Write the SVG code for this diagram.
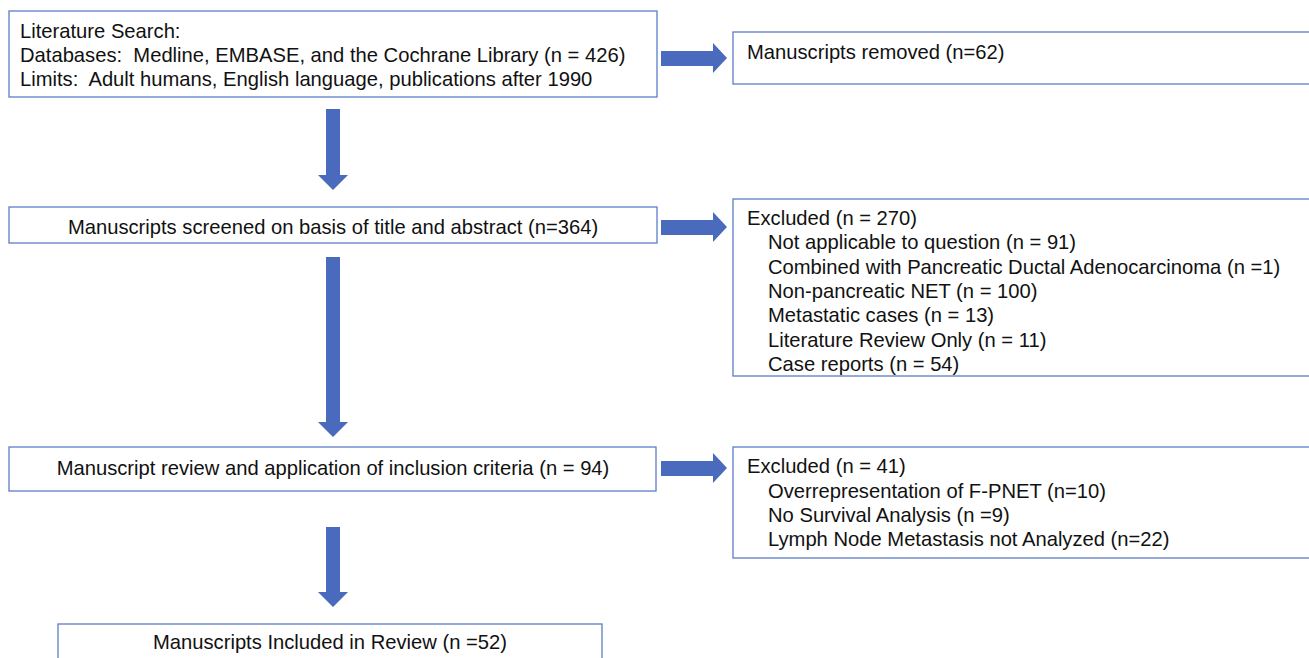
<svg xmlns="http://www.w3.org/2000/svg" width="1309" height="658" viewBox="0 0 1309 658" xml:space="preserve">
<style>
.box{fill:#fff;stroke:#5b7dc8;stroke-width:1.3}
.t{font-family:"Liberation Sans",Arial,sans-serif;font-size:20.2px;fill:#111;white-space:pre}
.c{text-anchor:middle}
.arr{fill:#4a6bbd}
</style>
<rect width="1309" height="658" fill="#fff"/>
<g id="connectors">
<polygon class="arr" points="661,51 713,51 713,43 727,58 713,73 713,66 661,66"/>
<polygon class="arr" points="661,220 713,220 713,212 727,227 713,242 713,235 661,235"/>
<polygon class="arr" points="661,461 713,461 713,453 727,468 713,483 713,476 661,476"/>
<polygon class="arr" points="326,109 340,109 340,175 348,175 333,190 318,175 326,175"/>
<polygon class="arr" points="326,257 340,257 340,422 348,422 333,437 318,422 326,422"/>
<polygon class="arr" points="326,527 340,527 340,592 348,592 333,607 318,592 326,592"/>
</g>
<g id="n1">
<rect class="box" x="9" y="11" width="648" height="86"/>
<text class="t" x="20" y="38">Literature Search:</text>
<text class="t" x="20" y="62">Databases:  Medline, EMBASE, and the Cochrane Library (n = 426)</text>
<text class="t" x="20" y="86">Limits:  Adult humans, English language, publications after 1990</text>
</g>
<g id="n2">
<rect class="box" x="733" y="32" width="590" height="52"/>
<text class="t" x="747" y="59">Manuscripts removed (n=62)</text>
</g>
<g id="n3">
<rect class="box" x="9" y="207" width="648" height="36"/>
<text class="t c" x="333" y="234">Manuscripts screened on basis of title and abstract (n=364)</text>
</g>
<g id="n4">
<rect class="box" x="733" y="199" width="590" height="177"/>
<text class="t" x="747" y="225">Excluded (n = 270)</text>
<text class="t" x="768" y="249.3">Not applicable to question (n = 91)</text>
<text class="t" x="768" y="273.6">Combined with Pancreatic Ductal Adenocarcinoma (n =1)</text>
<text class="t" x="768" y="297.9">Non-pancreatic NET (n = 100)</text>
<text class="t" x="768" y="322.2">Metastatic cases (n = 13)</text>
<text class="t" x="768" y="346.5">Literature Review Only (n = 11)</text>
<text class="t" x="768" y="370.8">Case reports (n = 54)</text>
</g>
<g id="n5">
<rect class="box" x="9" y="447" width="647" height="44"/>
<text class="t c" x="333" y="475">Manuscript review and application of inclusion criteria (n = 94)</text>
</g>
<g id="n6">
<rect class="box" x="733" y="447" width="590" height="111"/>
<text class="t" x="747" y="473">Excluded (n = 41)</text>
<text class="t" x="768" y="498">Overrepresentation of F-PNET (n=10)</text>
<text class="t" x="768" y="522">No Survival Analysis (n =9)</text>
<text class="t" x="768" y="546">Lymph Node Metastasis not Analyzed (n=22)</text>
</g>
<g id="n7">
<rect class="box" x="58" y="624" width="544" height="50"/>
<text class="t c" x="330" y="649">Manuscripts Included in Review (n =52)</text>
</g>
</svg>
